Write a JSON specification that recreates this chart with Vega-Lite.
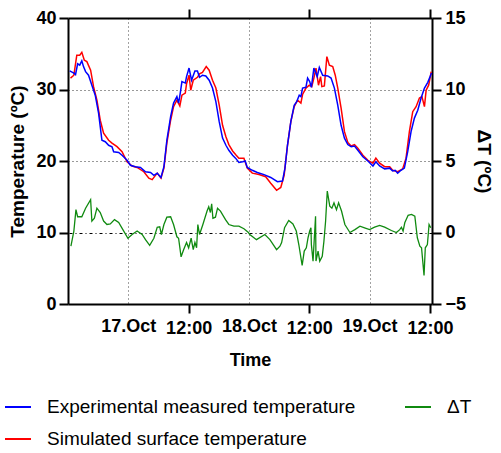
{
  "$schema": "https://vega.github.io/schema/vega-lite/v6.json",
  "width": 364,
  "height": 286,
  "autosize": {"type": "none"},
  "padding": {"left": 68, "top": 18, "right": 69, "bottom": 149},
  "background": "white",
  "config": {
    "view": {"stroke": null},
    "font": "Liberation Sans",
    "axis": {"labelFont": "Liberation Sans", "titleFont": "Liberation Sans", "labelColor": "black", "titleColor": "black", "domainColor": "black", "tickColor": "black", "domainWidth": 2, "tickWidth": 2}
  },
  "datasets": {
    "temps": [
      {"t": "2019-10-16T12:30", "v": 31.6, "s": "Simulated surface temperature"},
      {"t": "2019-10-16T13:10", "v": 32.0, "s": "Simulated surface temperature"},
      {"t": "2019-10-16T13:45", "v": 34.8, "s": "Simulated surface temperature"},
      {"t": "2019-10-16T14:20", "v": 34.8, "s": "Simulated surface temperature"},
      {"t": "2019-10-16T14:45", "v": 35.2, "s": "Simulated surface temperature"},
      {"t": "2019-10-16T15:15", "v": 34.1, "s": "Simulated surface temperature"},
      {"t": "2019-10-16T15:45", "v": 33.9, "s": "Simulated surface temperature"},
      {"t": "2019-10-16T16:30", "v": 32.7, "s": "Simulated surface temperature"},
      {"t": "2019-10-16T17:05", "v": 30.4, "s": "Simulated surface temperature"},
      {"t": "2019-10-16T17:45", "v": 28.5, "s": "Simulated surface temperature"},
      {"t": "2019-10-16T18:25", "v": 25.7, "s": "Simulated surface temperature"},
      {"t": "2019-10-16T19:05", "v": 23.9, "s": "Simulated surface temperature"},
      {"t": "2019-10-16T20:05", "v": 22.9, "s": "Simulated surface temperature"},
      {"t": "2019-10-16T20:45", "v": 22.5, "s": "Simulated surface temperature"},
      {"t": "2019-10-16T21:45", "v": 22.0, "s": "Simulated surface temperature"},
      {"t": "2019-10-16T22:45", "v": 21.3, "s": "Simulated surface temperature"},
      {"t": "2019-10-16T23:45", "v": 19.9, "s": "Simulated surface temperature"},
      {"t": "2019-10-17T00:45", "v": 19.3, "s": "Simulated surface temperature"},
      {"t": "2019-10-17T01:45", "v": 19.1, "s": "Simulated surface temperature"},
      {"t": "2019-10-17T03:05", "v": 18.5, "s": "Simulated surface temperature"},
      {"t": "2019-10-17T04:05", "v": 17.6, "s": "Simulated surface temperature"},
      {"t": "2019-10-17T04:45", "v": 17.4, "s": "Simulated surface temperature"},
      {"t": "2019-10-17T05:45", "v": 18.3, "s": "Simulated surface temperature"},
      {"t": "2019-10-17T06:30", "v": 17.6, "s": "Simulated surface temperature"},
      {"t": "2019-10-17T07:05", "v": 19.0, "s": "Simulated surface temperature"},
      {"t": "2019-10-17T07:40", "v": 22.5, "s": "Simulated surface temperature"},
      {"t": "2019-10-17T08:25", "v": 25.7, "s": "Simulated surface temperature"},
      {"t": "2019-10-17T09:00", "v": 27.6, "s": "Simulated surface temperature"},
      {"t": "2019-10-17T09:40", "v": 28.5, "s": "Simulated surface temperature"},
      {"t": "2019-10-17T10:15", "v": 27.7, "s": "Simulated surface temperature"},
      {"t": "2019-10-17T10:40", "v": 29.2, "s": "Simulated surface temperature"},
      {"t": "2019-10-17T11:20", "v": 29.5, "s": "Simulated surface temperature"},
      {"t": "2019-10-17T11:35", "v": 30.8, "s": "Simulated surface temperature"},
      {"t": "2019-10-17T12:05", "v": 32.0, "s": "Simulated surface temperature"},
      {"t": "2019-10-17T12:25", "v": 29.9, "s": "Simulated surface temperature"},
      {"t": "2019-10-17T12:55", "v": 31.3, "s": "Simulated surface temperature"},
      {"t": "2019-10-17T13:45", "v": 31.7, "s": "Simulated surface temperature"},
      {"t": "2019-10-17T14:10", "v": 32.2, "s": "Simulated surface temperature"},
      {"t": "2019-10-17T14:45", "v": 32.4, "s": "Simulated surface temperature"},
      {"t": "2019-10-17T15:30", "v": 33.2, "s": "Simulated surface temperature"},
      {"t": "2019-10-17T16:05", "v": 32.7, "s": "Simulated surface temperature"},
      {"t": "2019-10-17T16:45", "v": 31.3, "s": "Simulated surface temperature"},
      {"t": "2019-10-17T17:25", "v": 30.2, "s": "Simulated surface temperature"},
      {"t": "2019-10-17T18:05", "v": 27.8, "s": "Simulated surface temperature"},
      {"t": "2019-10-17T18:45", "v": 25.0, "s": "Simulated surface temperature"},
      {"t": "2019-10-17T19:25", "v": 23.4, "s": "Simulated surface temperature"},
      {"t": "2019-10-17T20:00", "v": 22.3, "s": "Simulated surface temperature"},
      {"t": "2019-10-17T20:45", "v": 21.4, "s": "Simulated surface temperature"},
      {"t": "2019-10-17T21:20", "v": 20.9, "s": "Simulated surface temperature"},
      {"t": "2019-10-17T22:00", "v": 20.4, "s": "Simulated surface temperature"},
      {"t": "2019-10-17T23:00", "v": 20.4, "s": "Simulated surface temperature"},
      {"t": "2019-10-17T23:40", "v": 19.0, "s": "Simulated surface temperature"},
      {"t": "2019-10-18T00:40", "v": 18.3, "s": "Simulated surface temperature"},
      {"t": "2019-10-18T02:00", "v": 18.1, "s": "Simulated surface temperature"},
      {"t": "2019-10-18T03:20", "v": 17.8, "s": "Simulated surface temperature"},
      {"t": "2019-10-18T04:20", "v": 16.9, "s": "Simulated surface temperature"},
      {"t": "2019-10-18T05:30", "v": 15.9, "s": "Simulated surface temperature"},
      {"t": "2019-10-18T06:20", "v": 16.3, "s": "Simulated surface temperature"},
      {"t": "2019-10-18T07:00", "v": 18.0, "s": "Simulated surface temperature"},
      {"t": "2019-10-18T07:40", "v": 22.2, "s": "Simulated surface temperature"},
      {"t": "2019-10-18T08:20", "v": 25.5, "s": "Simulated surface temperature"},
      {"t": "2019-10-18T09:00", "v": 27.6, "s": "Simulated surface temperature"},
      {"t": "2019-10-18T09:40", "v": 28.5, "s": "Simulated surface temperature"},
      {"t": "2019-10-18T10:20", "v": 28.1, "s": "Simulated surface temperature"},
      {"t": "2019-10-18T10:40", "v": 29.3, "s": "Simulated surface temperature"},
      {"t": "2019-10-18T11:20", "v": 30.2, "s": "Simulated surface temperature"},
      {"t": "2019-10-18T12:00", "v": 30.6, "s": "Simulated surface temperature"},
      {"t": "2019-10-18T12:30", "v": 30.4, "s": "Simulated surface temperature"},
      {"t": "2019-10-18T12:55", "v": 31.6, "s": "Simulated surface temperature"},
      {"t": "2019-10-18T13:20", "v": 33.0, "s": "Simulated surface temperature"},
      {"t": "2019-10-18T13:50", "v": 30.6, "s": "Simulated surface temperature"},
      {"t": "2019-10-18T14:15", "v": 31.8, "s": "Simulated surface temperature"},
      {"t": "2019-10-18T14:30", "v": 30.4, "s": "Simulated surface temperature"},
      {"t": "2019-10-18T15:00", "v": 30.5, "s": "Simulated surface temperature"},
      {"t": "2019-10-18T15:30", "v": 34.6, "s": "Simulated surface temperature"},
      {"t": "2019-10-18T16:00", "v": 33.4, "s": "Simulated surface temperature"},
      {"t": "2019-10-18T16:40", "v": 33.2, "s": "Simulated surface temperature"},
      {"t": "2019-10-18T17:10", "v": 32.0, "s": "Simulated surface temperature"},
      {"t": "2019-10-18T17:40", "v": 30.2, "s": "Simulated surface temperature"},
      {"t": "2019-10-18T18:20", "v": 27.4, "s": "Simulated surface temperature"},
      {"t": "2019-10-18T19:00", "v": 24.1, "s": "Simulated surface temperature"},
      {"t": "2019-10-18T19:40", "v": 22.6, "s": "Simulated surface temperature"},
      {"t": "2019-10-18T20:20", "v": 22.1, "s": "Simulated surface temperature"},
      {"t": "2019-10-18T21:00", "v": 22.3, "s": "Simulated surface temperature"},
      {"t": "2019-10-18T21:40", "v": 21.8, "s": "Simulated surface temperature"},
      {"t": "2019-10-18T22:40", "v": 20.8, "s": "Simulated surface temperature"},
      {"t": "2019-10-18T23:40", "v": 20.1, "s": "Simulated surface temperature"},
      {"t": "2019-10-19T00:40", "v": 19.7, "s": "Simulated surface temperature"},
      {"t": "2019-10-19T01:15", "v": 20.4, "s": "Simulated surface temperature"},
      {"t": "2019-10-19T02:00", "v": 19.7, "s": "Simulated surface temperature"},
      {"t": "2019-10-19T03:00", "v": 19.2, "s": "Simulated surface temperature"},
      {"t": "2019-10-19T04:00", "v": 19.2, "s": "Simulated surface temperature"},
      {"t": "2019-10-19T04:35", "v": 18.7, "s": "Simulated surface temperature"},
      {"t": "2019-10-19T05:35", "v": 18.5, "s": "Simulated surface temperature"},
      {"t": "2019-10-19T06:35", "v": 18.9, "s": "Simulated surface temperature"},
      {"t": "2019-10-19T07:15", "v": 20.4, "s": "Simulated surface temperature"},
      {"t": "2019-10-19T07:55", "v": 24.1, "s": "Simulated surface temperature"},
      {"t": "2019-10-19T08:35", "v": 26.9, "s": "Simulated surface temperature"},
      {"t": "2019-10-19T09:15", "v": 27.6, "s": "Simulated surface temperature"},
      {"t": "2019-10-19T09:55", "v": 28.8, "s": "Simulated surface temperature"},
      {"t": "2019-10-19T10:25", "v": 29.0, "s": "Simulated surface temperature"},
      {"t": "2019-10-19T10:55", "v": 27.6, "s": "Simulated surface temperature"},
      {"t": "2019-10-19T11:15", "v": 29.9, "s": "Simulated surface temperature"},
      {"t": "2019-10-19T11:45", "v": 30.6, "s": "Simulated surface temperature"},
      {"t": "2019-10-19T12:05", "v": 31.8, "s": "Simulated surface temperature"},
      {"t": "2019-10-19T12:15", "v": 32.5, "s": "Simulated surface temperature"},
      {"t": "2019-10-16T12:20", "v": 32.6, "s": "Experimental measured temperature"},
      {"t": "2019-10-16T13:10", "v": 32.3, "s": "Experimental measured temperature"},
      {"t": "2019-10-16T13:30", "v": 32.1, "s": "Experimental measured temperature"},
      {"t": "2019-10-16T13:55", "v": 33.6, "s": "Experimental measured temperature"},
      {"t": "2019-10-16T14:20", "v": 33.4, "s": "Experimental measured temperature"},
      {"t": "2019-10-16T14:45", "v": 34.0, "s": "Experimental measured temperature"},
      {"t": "2019-10-16T15:05", "v": 33.2, "s": "Experimental measured temperature"},
      {"t": "2019-10-16T15:30", "v": 32.5, "s": "Experimental measured temperature"},
      {"t": "2019-10-16T16:05", "v": 32.0, "s": "Experimental measured temperature"},
      {"t": "2019-10-16T16:45", "v": 30.6, "s": "Experimental measured temperature"},
      {"t": "2019-10-16T17:25", "v": 29.2, "s": "Experimental measured temperature"},
      {"t": "2019-10-16T18:05", "v": 26.7, "s": "Experimental measured temperature"},
      {"t": "2019-10-16T18:45", "v": 22.9, "s": "Experimental measured temperature"},
      {"t": "2019-10-16T19:25", "v": 22.7, "s": "Experimental measured temperature"},
      {"t": "2019-10-16T20:05", "v": 22.2, "s": "Experimental measured temperature"},
      {"t": "2019-10-16T20:45", "v": 22.0, "s": "Experimental measured temperature"},
      {"t": "2019-10-16T21:05", "v": 21.3, "s": "Experimental measured temperature"},
      {"t": "2019-10-16T22:05", "v": 21.2, "s": "Experimental measured temperature"},
      {"t": "2019-10-16T22:45", "v": 20.8, "s": "Experimental measured temperature"},
      {"t": "2019-10-16T23:45", "v": 20.1, "s": "Experimental measured temperature"},
      {"t": "2019-10-17T00:25", "v": 19.4, "s": "Experimental measured temperature"},
      {"t": "2019-10-17T01:25", "v": 19.2, "s": "Experimental measured temperature"},
      {"t": "2019-10-17T02:25", "v": 19.1, "s": "Experimental measured temperature"},
      {"t": "2019-10-17T03:25", "v": 18.5, "s": "Experimental measured temperature"},
      {"t": "2019-10-17T04:25", "v": 18.4, "s": "Experimental measured temperature"},
      {"t": "2019-10-17T05:05", "v": 18.0, "s": "Experimental measured temperature"},
      {"t": "2019-10-17T05:45", "v": 18.3, "s": "Experimental measured temperature"},
      {"t": "2019-10-17T06:30", "v": 17.7, "s": "Experimental measured temperature"},
      {"t": "2019-10-17T07:05", "v": 19.2, "s": "Experimental measured temperature"},
      {"t": "2019-10-17T07:40", "v": 22.9, "s": "Experimental measured temperature"},
      {"t": "2019-10-17T08:25", "v": 26.2, "s": "Experimental measured temperature"},
      {"t": "2019-10-17T09:00", "v": 28.1, "s": "Experimental measured temperature"},
      {"t": "2019-10-17T09:40", "v": 29.0, "s": "Experimental measured temperature"},
      {"t": "2019-10-17T10:00", "v": 28.1, "s": "Experimental measured temperature"},
      {"t": "2019-10-17T10:20", "v": 29.5, "s": "Experimental measured temperature"},
      {"t": "2019-10-17T10:40", "v": 31.1, "s": "Experimental measured temperature"},
      {"t": "2019-10-17T11:20", "v": 30.9, "s": "Experimental measured temperature"},
      {"t": "2019-10-17T11:35", "v": 31.8, "s": "Experimental measured temperature"},
      {"t": "2019-10-17T12:05", "v": 33.0, "s": "Experimental measured temperature"},
      {"t": "2019-10-17T12:35", "v": 31.3, "s": "Experimental measured temperature"},
      {"t": "2019-10-17T13:15", "v": 32.6, "s": "Experimental measured temperature"},
      {"t": "2019-10-17T13:45", "v": 32.6, "s": "Experimental measured temperature"},
      {"t": "2019-10-17T14:10", "v": 31.7, "s": "Experimental measured temperature"},
      {"t": "2019-10-17T14:45", "v": 32.0, "s": "Experimental measured temperature"},
      {"t": "2019-10-17T15:25", "v": 31.9, "s": "Experimental measured temperature"},
      {"t": "2019-10-17T16:05", "v": 31.3, "s": "Experimental measured temperature"},
      {"t": "2019-10-17T16:45", "v": 30.2, "s": "Experimental measured temperature"},
      {"t": "2019-10-17T17:25", "v": 28.3, "s": "Experimental measured temperature"},
      {"t": "2019-10-17T18:05", "v": 25.5, "s": "Experimental measured temperature"},
      {"t": "2019-10-17T18:45", "v": 23.2, "s": "Experimental measured temperature"},
      {"t": "2019-10-17T19:25", "v": 22.2, "s": "Experimental measured temperature"},
      {"t": "2019-10-17T20:00", "v": 21.5, "s": "Experimental measured temperature"},
      {"t": "2019-10-17T20:45", "v": 20.8, "s": "Experimental measured temperature"},
      {"t": "2019-10-17T21:20", "v": 20.4, "s": "Experimental measured temperature"},
      {"t": "2019-10-17T22:00", "v": 19.8, "s": "Experimental measured temperature"},
      {"t": "2019-10-17T22:45", "v": 19.9, "s": "Experimental measured temperature"},
      {"t": "2019-10-17T23:15", "v": 20.0, "s": "Experimental measured temperature"},
      {"t": "2019-10-17T23:40", "v": 19.1, "s": "Experimental measured temperature"},
      {"t": "2019-10-18T00:40", "v": 18.7, "s": "Experimental measured temperature"},
      {"t": "2019-10-18T01:40", "v": 18.4, "s": "Experimental measured temperature"},
      {"t": "2019-10-18T03:00", "v": 18.1, "s": "Experimental measured temperature"},
      {"t": "2019-10-18T04:20", "v": 17.7, "s": "Experimental measured temperature"},
      {"t": "2019-10-18T05:40", "v": 17.1, "s": "Experimental measured temperature"},
      {"t": "2019-10-18T06:40", "v": 17.2, "s": "Experimental measured temperature"},
      {"t": "2019-10-18T07:10", "v": 19.0, "s": "Experimental measured temperature"},
      {"t": "2019-10-18T07:40", "v": 22.2, "s": "Experimental measured temperature"},
      {"t": "2019-10-18T08:20", "v": 25.5, "s": "Experimental measured temperature"},
      {"t": "2019-10-18T09:00", "v": 27.8, "s": "Experimental measured temperature"},
      {"t": "2019-10-18T09:30", "v": 28.3, "s": "Experimental measured temperature"},
      {"t": "2019-10-18T10:00", "v": 29.2, "s": "Experimental measured temperature"},
      {"t": "2019-10-18T10:20", "v": 29.0, "s": "Experimental measured temperature"},
      {"t": "2019-10-18T10:40", "v": 30.2, "s": "Experimental measured temperature"},
      {"t": "2019-10-18T11:20", "v": 30.3, "s": "Experimental measured temperature"},
      {"t": "2019-10-18T11:40", "v": 31.6, "s": "Experimental measured temperature"},
      {"t": "2019-10-18T12:05", "v": 31.1, "s": "Experimental measured temperature"},
      {"t": "2019-10-18T12:25", "v": 30.3, "s": "Experimental measured temperature"},
      {"t": "2019-10-18T12:55", "v": 33.0, "s": "Experimental measured temperature"},
      {"t": "2019-10-18T13:35", "v": 31.8, "s": "Experimental measured temperature"},
      {"t": "2019-10-18T14:00", "v": 33.1, "s": "Experimental measured temperature"},
      {"t": "2019-10-18T14:40", "v": 32.0, "s": "Experimental measured temperature"},
      {"t": "2019-10-18T15:40", "v": 31.9, "s": "Experimental measured temperature"},
      {"t": "2019-10-18T16:20", "v": 31.6, "s": "Experimental measured temperature"},
      {"t": "2019-10-18T17:00", "v": 30.2, "s": "Experimental measured temperature"},
      {"t": "2019-10-18T17:40", "v": 27.8, "s": "Experimental measured temperature"},
      {"t": "2019-10-18T18:20", "v": 25.0, "s": "Experimental measured temperature"},
      {"t": "2019-10-18T19:00", "v": 23.2, "s": "Experimental measured temperature"},
      {"t": "2019-10-18T19:40", "v": 22.3, "s": "Experimental measured temperature"},
      {"t": "2019-10-18T20:20", "v": 22.0, "s": "Experimental measured temperature"},
      {"t": "2019-10-18T21:00", "v": 22.1, "s": "Experimental measured temperature"},
      {"t": "2019-10-18T21:40", "v": 21.5, "s": "Experimental measured temperature"},
      {"t": "2019-10-18T22:40", "v": 20.6, "s": "Experimental measured temperature"},
      {"t": "2019-10-18T23:40", "v": 20.0, "s": "Experimental measured temperature"},
      {"t": "2019-10-19T00:40", "v": 19.3, "s": "Experimental measured temperature"},
      {"t": "2019-10-19T01:15", "v": 19.9, "s": "Experimental measured temperature"},
      {"t": "2019-10-19T02:00", "v": 19.3, "s": "Experimental measured temperature"},
      {"t": "2019-10-19T03:00", "v": 18.9, "s": "Experimental measured temperature"},
      {"t": "2019-10-19T04:00", "v": 19.0, "s": "Experimental measured temperature"},
      {"t": "2019-10-19T04:35", "v": 18.6, "s": "Experimental measured temperature"},
      {"t": "2019-10-19T05:05", "v": 18.7, "s": "Experimental measured temperature"},
      {"t": "2019-10-19T05:35", "v": 18.3, "s": "Experimental measured temperature"},
      {"t": "2019-10-19T06:15", "v": 18.7, "s": "Experimental measured temperature"},
      {"t": "2019-10-19T06:55", "v": 19.0, "s": "Experimental measured temperature"},
      {"t": "2019-10-19T07:35", "v": 21.3, "s": "Experimental measured temperature"},
      {"t": "2019-10-19T08:15", "v": 24.1, "s": "Experimental measured temperature"},
      {"t": "2019-10-19T08:55", "v": 26.0, "s": "Experimental measured temperature"},
      {"t": "2019-10-19T09:35", "v": 27.1, "s": "Experimental measured temperature"},
      {"t": "2019-10-19T10:15", "v": 28.8, "s": "Experimental measured temperature"},
      {"t": "2019-10-19T10:55", "v": 30.2, "s": "Experimental measured temperature"},
      {"t": "2019-10-19T11:35", "v": 31.0, "s": "Experimental measured temperature"},
      {"t": "2019-10-19T12:05", "v": 31.9, "s": "Experimental measured temperature"},
      {"t": "2019-10-19T12:20", "v": 32.3, "s": "Experimental measured temperature"}
    ],
    "delta": [
      {"t": "2019-10-16T12:35", "d": -0.96, "s": "ΔT"},
      {"t": "2019-10-16T13:10", "d": 0.1, "s": "ΔT"},
      {"t": "2019-10-16T13:35", "d": 1.6, "s": "ΔT"},
      {"t": "2019-10-16T13:55", "d": 1.1, "s": "ΔT"},
      {"t": "2019-10-16T14:45", "d": 1.1, "s": "ΔT"},
      {"t": "2019-10-16T15:30", "d": 1.7, "s": "ΔT"},
      {"t": "2019-10-16T16:30", "d": 2.3, "s": "ΔT"},
      {"t": "2019-10-16T16:45", "d": 0.8, "s": "ΔT"},
      {"t": "2019-10-16T17:15", "d": 1.0, "s": "ΔT"},
      {"t": "2019-10-16T17:45", "d": 1.7, "s": "ΔT"},
      {"t": "2019-10-16T18:25", "d": 1.4, "s": "ΔT"},
      {"t": "2019-10-16T19:05", "d": 0.8, "s": "ΔT"},
      {"t": "2019-10-16T19:45", "d": 0.56, "s": "ΔT"},
      {"t": "2019-10-16T20:25", "d": 0.6, "s": "ΔT"},
      {"t": "2019-10-16T21:15", "d": 0.9, "s": "ΔT"},
      {"t": "2019-10-16T22:05", "d": 0.7, "s": "ΔT"},
      {"t": "2019-10-16T22:55", "d": 0.2, "s": "ΔT"},
      {"t": "2019-10-16T23:55", "d": -0.4, "s": "ΔT"},
      {"t": "2019-10-17T00:45", "d": -0.14, "s": "ΔT"},
      {"t": "2019-10-17T01:45", "d": 0.1, "s": "ΔT"},
      {"t": "2019-10-17T02:45", "d": -0.14, "s": "ΔT"},
      {"t": "2019-10-17T03:25", "d": -0.5, "s": "ΔT"},
      {"t": "2019-10-17T04:15", "d": -0.9, "s": "ΔT"},
      {"t": "2019-10-17T05:05", "d": -0.4, "s": "ΔT"},
      {"t": "2019-10-17T05:45", "d": 0.37, "s": "ΔT"},
      {"t": "2019-10-17T06:15", "d": 0.4, "s": "ΔT"},
      {"t": "2019-10-17T06:35", "d": -0.14, "s": "ΔT"},
      {"t": "2019-10-17T07:05", "d": 0.56, "s": "ΔT"},
      {"t": "2019-10-17T07:40", "d": 1.07, "s": "ΔT"},
      {"t": "2019-10-17T08:25", "d": 1.1, "s": "ΔT"},
      {"t": "2019-10-17T09:00", "d": 0.56, "s": "ΔT"},
      {"t": "2019-10-17T09:40", "d": -0.3, "s": "ΔT"},
      {"t": "2019-10-17T10:00", "d": -0.4, "s": "ΔT"},
      {"t": "2019-10-17T10:30", "d": -1.7, "s": "ΔT"},
      {"t": "2019-10-17T11:00", "d": -1.2, "s": "ΔT"},
      {"t": "2019-10-17T11:35", "d": -0.7, "s": "ΔT"},
      {"t": "2019-10-17T12:00", "d": -1.07, "s": "ΔT"},
      {"t": "2019-10-17T12:30", "d": -0.4, "s": "ΔT"},
      {"t": "2019-10-17T12:55", "d": -1.2, "s": "ΔT"},
      {"t": "2019-10-17T13:15", "d": -0.7, "s": "ΔT"},
      {"t": "2019-10-17T13:35", "d": -1.07, "s": "ΔT"},
      {"t": "2019-10-17T13:50", "d": 0.56, "s": "ΔT"},
      {"t": "2019-10-17T14:10", "d": -0.14, "s": "ΔT"},
      {"t": "2019-10-17T14:50", "d": 0.56, "s": "ΔT"},
      {"t": "2019-10-17T15:40", "d": 1.5, "s": "ΔT"},
      {"t": "2019-10-17T16:00", "d": 1.8, "s": "ΔT"},
      {"t": "2019-10-17T16:20", "d": 1.4, "s": "ΔT"},
      {"t": "2019-10-17T16:35", "d": 2.0, "s": "ΔT"},
      {"t": "2019-10-17T16:50", "d": 1.0, "s": "ΔT"},
      {"t": "2019-10-17T17:20", "d": 1.07, "s": "ΔT"},
      {"t": "2019-10-17T17:45", "d": 1.7, "s": "ΔT"},
      {"t": "2019-10-17T18:20", "d": 1.5, "s": "ΔT"},
      {"t": "2019-10-17T19:20", "d": 0.9, "s": "ΔT"},
      {"t": "2019-10-17T20:00", "d": 0.56, "s": "ΔT"},
      {"t": "2019-10-17T21:00", "d": 0.44, "s": "ΔT"},
      {"t": "2019-10-17T22:00", "d": 0.44, "s": "ΔT"},
      {"t": "2019-10-17T23:00", "d": 0.26, "s": "ΔT"},
      {"t": "2019-10-17T23:50", "d": 0.02, "s": "ΔT"},
      {"t": "2019-10-18T00:10", "d": -0.14, "s": "ΔT"},
      {"t": "2019-10-18T01:30", "d": -0.5, "s": "ΔT"},
      {"t": "2019-10-18T03:10", "d": -0.14, "s": "ΔT"},
      {"t": "2019-10-18T04:10", "d": -0.5, "s": "ΔT"},
      {"t": "2019-10-18T05:30", "d": -1.2, "s": "ΔT"},
      {"t": "2019-10-18T06:10", "d": -0.96, "s": "ΔT"},
      {"t": "2019-10-18T06:30", "d": -0.7, "s": "ΔT"},
      {"t": "2019-10-18T07:05", "d": 0.33, "s": "ΔT"},
      {"t": "2019-10-18T07:55", "d": 0.84, "s": "ΔT"},
      {"t": "2019-10-18T08:45", "d": 0.6, "s": "ΔT"},
      {"t": "2019-10-18T09:25", "d": 0.1, "s": "ΔT"},
      {"t": "2019-10-18T09:55", "d": -0.84, "s": "ΔT"},
      {"t": "2019-10-18T10:35", "d": -2.3, "s": "ΔT"},
      {"t": "2019-10-18T11:00", "d": -1.3, "s": "ΔT"},
      {"t": "2019-10-18T11:25", "d": -1.07, "s": "ΔT"},
      {"t": "2019-10-18T11:45", "d": -0.37, "s": "ΔT"},
      {"t": "2019-10-18T12:05", "d": 0.1, "s": "ΔT"},
      {"t": "2019-10-18T12:20", "d": 0.33, "s": "ΔT"},
      {"t": "2019-10-18T12:25", "d": -0.84, "s": "ΔT"},
      {"t": "2019-10-18T12:45", "d": -2.0, "s": "ΔT"},
      {"t": "2019-10-18T13:15", "d": 1.14, "s": "ΔT"},
      {"t": "2019-10-18T13:20", "d": -2.0, "s": "ΔT"},
      {"t": "2019-10-18T13:45", "d": -1.3, "s": "ΔT"},
      {"t": "2019-10-18T14:05", "d": -2.0, "s": "ΔT"},
      {"t": "2019-10-18T14:35", "d": -1.66, "s": "ΔT"},
      {"t": "2019-10-18T14:55", "d": -0.6, "s": "ΔT"},
      {"t": "2019-10-18T15:15", "d": 0.8, "s": "ΔT"},
      {"t": "2019-10-18T15:35", "d": 2.9, "s": "ΔT"},
      {"t": "2019-10-18T16:05", "d": 1.84, "s": "ΔT"},
      {"t": "2019-10-18T16:30", "d": 1.7, "s": "ΔT"},
      {"t": "2019-10-18T16:55", "d": 2.07, "s": "ΔT"},
      {"t": "2019-10-18T17:25", "d": 1.6, "s": "ΔT"},
      {"t": "2019-10-18T17:50", "d": 2.07, "s": "ΔT"},
      {"t": "2019-10-18T18:25", "d": 1.5, "s": "ΔT"},
      {"t": "2019-10-18T19:05", "d": 0.56, "s": "ΔT"},
      {"t": "2019-10-18T20:05", "d": 0.0, "s": "ΔT"},
      {"t": "2019-10-18T21:05", "d": 0.2, "s": "ΔT"},
      {"t": "2019-10-18T22:05", "d": 0.44, "s": "ΔT"},
      {"t": "2019-10-18T23:00", "d": 0.33, "s": "ΔT"},
      {"t": "2019-10-19T00:00", "d": 0.2, "s": "ΔT"},
      {"t": "2019-10-19T01:00", "d": 0.37, "s": "ΔT"},
      {"t": "2019-10-19T02:00", "d": 0.5, "s": "ΔT"},
      {"t": "2019-10-19T03:00", "d": 0.37, "s": "ΔT"},
      {"t": "2019-10-19T04:20", "d": 0.14, "s": "ΔT"},
      {"t": "2019-10-19T05:20", "d": 0.0, "s": "ΔT"},
      {"t": "2019-10-19T06:00", "d": 0.2, "s": "ΔT"},
      {"t": "2019-10-19T06:20", "d": 0.37, "s": "ΔT"},
      {"t": "2019-10-19T06:40", "d": 0.1, "s": "ΔT"},
      {"t": "2019-10-19T07:00", "d": 0.68, "s": "ΔT"},
      {"t": "2019-10-19T07:40", "d": 1.2, "s": "ΔT"},
      {"t": "2019-10-19T08:20", "d": 1.26, "s": "ΔT"},
      {"t": "2019-10-19T09:00", "d": 1.14, "s": "ΔT"},
      {"t": "2019-10-19T09:30", "d": -0.37, "s": "ΔT"},
      {"t": "2019-10-19T10:00", "d": -0.96, "s": "ΔT"},
      {"t": "2019-10-19T10:20", "d": -1.07, "s": "ΔT"},
      {"t": "2019-10-19T10:50", "d": -3.0, "s": "ΔT"},
      {"t": "2019-10-19T11:05", "d": -1.07, "s": "ΔT"},
      {"t": "2019-10-19T11:30", "d": -0.84, "s": "ΔT"},
      {"t": "2019-10-19T11:50", "d": 0.56, "s": "ΔT"},
      {"t": "2019-10-19T12:10", "d": 0.33, "s": "ΔT"}
    ]
  },
  "layer": [
    {
      "data": {"name": "temps"},
      "mark": {"type": "line", "strokeWidth": 1.5},
      "encoding": {
        "x": {
          "field": "t", "type": "temporal",
          "scale": {"domain": [{"year": 2019, "month": 10, "date": 16, "hours": 12}, {"year": 2019, "month": 10, "date": 19, "hours": 12, "minutes": 25}]},
          "axis": {
            "orient": "bottom",
            "values": [
              {"year": 2019, "month": 10, "date": 17},
              {"year": 2019, "month": 10, "date": 17, "hours": 12},
              {"year": 2019, "month": 10, "date": 18},
              {"year": 2019, "month": 10, "date": 18, "hours": 12},
              {"year": 2019, "month": 10, "date": 19},
              {"year": 2019, "month": 10, "date": 19, "hours": 12}
            ],
            "labelExpr": "hours(datum.value) == 12 ? '12:00' : timeFormat(datum.value, '%d.%b')",
            "labelFontSize": 18,
            "labelFontWeight": "bold",
            "labelFlush": false,
            "labelOverlap": false,
            "tickSize": 9,
            "tickOpacity": {"condition": {"test": "hours(datum.value) == 12", "value": 1}, "value": 0},
            "labelPadding": {"condition": {"test": "hours(datum.value) == 12", "value": 6}, "value": 4},
            "grid": true,
            "gridColor": "#444444",
            "gridDash": [1, 3],
            "gridWidth": 1,
            "gridOpacity": {"condition": {"test": "hours(datum.value) == 12", "value": 0}, "value": 1},
            "title": "Time",
            "titleFontSize": 18,
            "titleFontWeight": "bold",
            "titlePadding": 14
          }
        },
        "y": {
          "field": "v", "type": "quantitative",
          "scale": {"domain": [0, 40], "nice": false},
          "axis": {
            "orient": "left",
            "values": [0, 10, 20, 30, 40],
            "labelFontSize": 18,
            "labelFontWeight": "bold",
            "tickSize": 9,
            "labelPadding": 3,
            "grid": true,
            "gridColor": "#333333",
            "gridDash": [1, 3],
            "gridWidth": 1,
            "gridOpacity": {"condition": {"test": "datum.value == 20 || datum.value == 30", "value": 1}, "value": 0},
            "title": "Temperature (ºC)",
            "titleFontSize": 19,
            "titleFontWeight": "bold",
            "titlePadding": 8
          }
        },
        "color": {
          "field": "s", "type": "nominal",
          "scale": {"domain": ["Experimental measured temperature", "Simulated surface temperature", "ΔT"], "range": ["#0000ff", "#ff0000", "#108a10"]},
          "legend": {
            "orient": "none", "legendX": -64, "legendY": 375,
            "title": null, "columns": 2, "columnPadding": 45, "rowPadding": 8,
            "symbolType": "stroke", "symbolSize": 676, "symbolStrokeWidth": 2,
            "labelFont": "Liberation Sans", "labelFontSize": 19, "labelColor": "black",
            "labelOffset": 15, "labelLimit": 400
          }
        }
      }
    },
    {
      "data": {"name": "delta"},
      "mark": {"type": "line", "strokeWidth": 1.3},
      "encoding": {
        "x": {
          "field": "t", "type": "temporal",
          "axis": {
            "orient": "top",
            "values": [
              {"year": 2019, "month": 10, "date": 17, "hours": 12},
              {"year": 2019, "month": 10, "date": 18, "hours": 12},
              {"year": 2019, "month": 10, "date": 19, "hours": 12}
            ],
            "labels": false,
            "tickSize": 9,
            "grid": false,
            "title": null
          }
        },
        "y": {
          "field": "d", "type": "quantitative",
          "scale": {"domain": [-5, 15], "nice": false},
          "axis": {
            "orient": "right",
            "values": [-5, 0, 5, 10, 15],
            "labelFontSize": 18,
            "labelFontWeight": "bold",
            "tickSize": 9,
            "labelPadding": 4,
            "grid": true,
            "gridColor": "black",
            "gridDash": [3, 3, 1, 3],
            "gridWidth": 1.2,
            "gridOpacity": {"condition": {"test": "datum.value == 0", "value": 1}, "value": 0},
            "title": "ΔT (ºC)",
            "titleFontSize": 19,
            "titleFontWeight": "bold",
            "titlePadding": 8
          }
        },
        "color": {
          "field": "s", "type": "nominal",
          "scale": {"domain": ["Experimental measured temperature", "Simulated surface temperature", "ΔT"], "range": ["#0000ff", "#ff0000", "#108a10"]}
        }
      }
    }
  ],
  "resolve": {"scale": {"y": "independent"}, "axis": {"x": "independent"}}
}
